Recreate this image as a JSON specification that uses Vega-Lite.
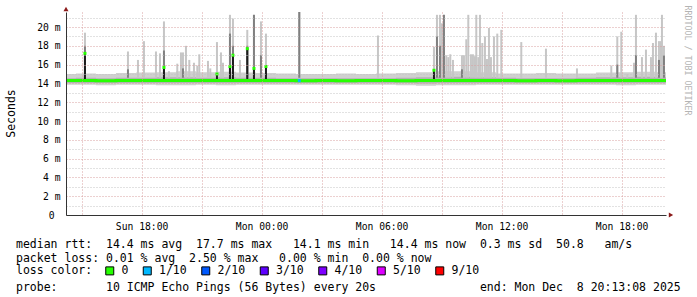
{
  "$schema": "https://vega.github.io/schema/vega-lite/v6.json",
  "width": 600,
  "height": 203,
  "autosize": {"type": "none"},
  "padding": {"left": 66, "top": 12, "right": 31, "bottom": 82},
  "background": "white",
  "config": {"view": {"stroke": null}, "font": "DejaVu Sans Mono", "scale": {"continuousPadding": 0}},
  "title": {
    "text": [
      "median rtt:\u00a0\u00a014.4 ms avg\u00a0\u00a017.7 ms max\u00a0\u00a0\u00a014.1 ms min\u00a0\u00a0\u00a014.4 ms now\u00a0\u00a00.3 ms sd\u00a0\u00a050.8\u00a0\u00a0\u00a0am/s",
      "packet loss: 0.01 % avg\u00a0\u00a02.50 % max\u00a0\u00a0\u00a00.00 % min\u00a0\u00a00.00 % now"
    ],
    "subtitle": "probe:\u00a0\u00a0\u00a0\u00a0\u00a0\u00a0\u00a010 ICMP Echo Pings (56 Bytes) every 20s\u00a0\u00a0\u00a0\u00a0\u00a0\u00a0\u00a0\u00a0\u00a0\u00a0\u00a0\u00a0\u00a0\u00a0\u00a0end: Mon Dec\u00a0\u00a08 20:13:08 2025",
    "orient": "bottom",
    "anchor": "start",
    "frame": "group",
    "dx": -50,
    "offset": -38,
    "font": "DejaVu Sans Mono",
    "fontSize": 11.5,
    "fontWeight": "normal",
    "color": "#000000",
    "lineHeight": 14,
    "subtitleFont": "DejaVu Sans Mono",
    "subtitleFontSize": 11.5,
    "subtitleFontWeight": "normal",
    "subtitleColor": "#000000",
    "subtitlePadding": 17
  },
  "datasets": {
    "base": [
      {"t": "2025-12-07T14:13:08", "lo": 13.85, "mlo": 14.05, "med": 14.3, "mhi": 14.55, "hi": 15.0},
      {"t": "2025-12-07T15:13:00", "lo": 13.85, "mlo": 14.05, "med": 14.3, "mhi": 14.6, "hi": 15.05},
      {"t": "2025-12-07T16:13:00", "lo": 13.8, "mlo": 14.05, "med": 14.28, "mhi": 14.55, "hi": 15.0},
      {"t": "2025-12-07T17:13:00", "lo": 13.85, "mlo": 14.05, "med": 14.3, "mhi": 14.6, "hi": 15.1},
      {"t": "2025-12-07T18:13:00", "lo": 13.85, "mlo": 14.05, "med": 14.32, "mhi": 14.6, "hi": 15.15},
      {"t": "2025-12-07T19:13:00", "lo": 13.8, "mlo": 14.05, "med": 14.3, "mhi": 14.65, "hi": 15.2},
      {"t": "2025-12-07T20:13:00", "lo": 13.8, "mlo": 14.05, "med": 14.3, "mhi": 14.65, "hi": 15.3},
      {"t": "2025-12-07T21:13:00", "lo": 13.85, "mlo": 14.05, "med": 14.32, "mhi": 14.6, "hi": 15.2},
      {"t": "2025-12-07T22:13:00", "lo": 13.8, "mlo": 14.05, "med": 14.3, "mhi": 14.65, "hi": 15.25},
      {"t": "2025-12-07T23:13:00", "lo": 13.85, "mlo": 14.05, "med": 14.3, "mhi": 14.6, "hi": 15.15},
      {"t": "2025-12-08T00:13:00", "lo": 13.85, "mlo": 14.05, "med": 14.3, "mhi": 14.6, "hi": 15.1},
      {"t": "2025-12-08T01:13:00", "lo": 13.85, "mlo": 14.05, "med": 14.3, "mhi": 14.55, "hi": 15.05},
      {"t": "2025-12-08T02:13:00", "lo": 13.85, "mlo": 14.05, "med": 14.28, "mhi": 14.55, "hi": 15.0},
      {"t": "2025-12-08T03:13:00", "lo": 13.85, "mlo": 14.05, "med": 14.3, "mhi": 14.55, "hi": 15.0},
      {"t": "2025-12-08T04:13:00", "lo": 13.85, "mlo": 14.05, "med": 14.28, "mhi": 14.55, "hi": 15.05},
      {"t": "2025-12-08T05:13:00", "lo": 13.85, "mlo": 14.05, "med": 14.3, "mhi": 14.55, "hi": 15.0},
      {"t": "2025-12-08T06:13:00", "lo": 13.85, "mlo": 14.05, "med": 14.3, "mhi": 14.55, "hi": 15.05},
      {"t": "2025-12-08T07:13:00", "lo": 13.8, "mlo": 14.05, "med": 14.28, "mhi": 14.6, "hi": 15.1},
      {"t": "2025-12-08T08:13:00", "lo": 13.75, "mlo": 14.0, "med": 14.3, "mhi": 14.65, "hi": 15.2},
      {"t": "2025-12-08T09:13:00", "lo": 13.8, "mlo": 14.05, "med": 14.3, "mhi": 14.7, "hi": 15.3},
      {"t": "2025-12-08T10:13:00", "lo": 13.8, "mlo": 14.05, "med": 14.32, "mhi": 14.7, "hi": 15.3},
      {"t": "2025-12-08T11:13:00", "lo": 13.85, "mlo": 14.05, "med": 14.3, "mhi": 14.65, "hi": 15.2},
      {"t": "2025-12-08T12:13:00", "lo": 13.85, "mlo": 14.05, "med": 14.3, "mhi": 14.6, "hi": 15.05},
      {"t": "2025-12-08T13:13:00", "lo": 13.85, "mlo": 14.05, "med": 14.28, "mhi": 14.55, "hi": 15.05},
      {"t": "2025-12-08T14:13:00", "lo": 13.85, "mlo": 14.05, "med": 14.3, "mhi": 14.55, "hi": 15.1},
      {"t": "2025-12-08T15:13:00", "lo": 13.85, "mlo": 14.05, "med": 14.28, "mhi": 14.55, "hi": 15.05},
      {"t": "2025-12-08T16:13:00", "lo": 13.85, "mlo": 14.05, "med": 14.3, "mhi": 14.6, "hi": 15.05},
      {"t": "2025-12-08T17:13:00", "lo": 13.85, "mlo": 14.05, "med": 14.3, "mhi": 14.65, "hi": 15.15},
      {"t": "2025-12-08T18:13:00", "lo": 13.8, "mlo": 14.05, "med": 14.3, "mhi": 14.65, "hi": 15.2},
      {"t": "2025-12-08T19:13:00", "lo": 13.85, "mlo": 14.05, "med": 14.32, "mhi": 14.7, "hi": 15.25},
      {"t": "2025-12-08T20:13:08", "lo": 13.85, "mlo": 14.05, "med": 14.3, "mhi": 14.65, "hi": 15.2}
    ],
    "spikes": [
      {"t": "2025-12-07T15:10:00", "top": 19.4, "dark": 18.0, "black": 17.2},
      {"t": "2025-12-07T17:19:00", "top": 17.4, "dark": 15.5},
      {"t": "2025-12-07T17:49:00", "top": 16.5},
      {"t": "2025-12-07T18:07:00", "top": 18.5},
      {"t": "2025-12-07T18:43:00", "top": 17.4},
      {"t": "2025-12-07T18:55:00", "top": 17.2},
      {"t": "2025-12-07T19:07:00", "top": 20.6, "dark": 17.5, "black": 15.7},
      {"t": "2025-12-07T19:22:00", "top": 15.3},
      {"t": "2025-12-07T19:47:00", "top": 16.1},
      {"t": "2025-12-07T19:58:00", "top": 17.3},
      {"t": "2025-12-07T20:04:00", "top": 17.3, "dark": 15.6},
      {"t": "2025-12-07T20:13:00", "top": 18.0},
      {"t": "2025-12-07T20:23:00", "top": 16.5},
      {"t": "2025-12-07T20:37:00", "top": 16.2},
      {"t": "2025-12-07T20:47:00", "top": 15.9},
      {"t": "2025-12-07T20:53:00", "top": 17.1},
      {"t": "2025-12-07T21:19:00", "top": 16.4},
      {"t": "2025-12-07T21:26:00", "top": 15.6},
      {"t": "2025-12-07T21:46:00", "top": 18.4, "black": 15.0},
      {"t": "2025-12-07T21:58:00", "top": 17.3},
      {"t": "2025-12-07T22:04:00", "top": 16.2},
      {"t": "2025-12-07T22:25:00", "top": 21.3, "dark": 19.3, "black": 15.8},
      {"t": "2025-12-07T22:34:00", "top": 20.9, "dark": 18.0, "black": 17.0},
      {"t": "2025-12-07T22:55:00", "top": 16.5},
      {"t": "2025-12-07T23:17:00", "top": 19.7, "dark": 18.0, "black": 17.7},
      {"t": "2025-12-07T23:37:00", "top": 21.3, "dark": 21.3, "black": 15.6},
      {"t": "2025-12-07T23:58:00", "top": 20.6, "dark": 17.0},
      {"t": "2025-12-08T00:13:00", "top": 19.3, "black": 15.8},
      {"t": "2025-12-08T01:53:00", "top": 21.6, "dark": 21.6},
      {"t": "2025-12-08T05:49:00", "top": 19.1},
      {"t": "2025-12-08T08:37:00", "top": 17.9, "black": 15.4},
      {"t": "2025-12-08T08:46:00", "top": 21.3, "dark": 19.0},
      {"t": "2025-12-08T08:55:00", "top": 21.3, "dark": 18.0},
      {"t": "2025-12-08T09:01:00", "top": 20.4},
      {"t": "2025-12-08T09:07:00", "top": 21.3, "dark": 21.3},
      {"t": "2025-12-08T09:14:00", "top": 17.0},
      {"t": "2025-12-08T09:20:00", "top": 16.8},
      {"t": "2025-12-08T09:26:00", "top": 17.1},
      {"t": "2025-12-08T09:34:00", "top": 16.5},
      {"t": "2025-12-08T10:01:00", "top": 17.0, "dark": 15.5},
      {"t": "2025-12-08T10:07:00", "top": 17.0},
      {"t": "2025-12-08T10:14:00", "top": 18.7},
      {"t": "2025-12-08T10:20:00", "top": 21.3},
      {"t": "2025-12-08T10:28:00", "top": 17.1},
      {"t": "2025-12-08T10:34:00", "top": 17.1},
      {"t": "2025-12-08T10:40:00", "top": 16.9},
      {"t": "2025-12-08T10:44:00", "top": 21.3},
      {"t": "2025-12-08T10:50:00", "top": 16.8},
      {"t": "2025-12-08T10:55:00", "top": 21.3},
      {"t": "2025-12-08T11:02:00", "top": 18.3},
      {"t": "2025-12-08T11:10:00", "top": 19.0},
      {"t": "2025-12-08T11:16:00", "top": 16.6},
      {"t": "2025-12-08T11:22:00", "top": 19.9},
      {"t": "2025-12-08T11:28:00", "top": 16.8},
      {"t": "2025-12-08T11:37:00", "top": 19.0},
      {"t": "2025-12-08T11:47:00", "top": 19.3},
      {"t": "2025-12-08T11:59:00", "top": 19.7},
      {"t": "2025-12-08T12:59:00", "top": 18.4},
      {"t": "2025-12-08T14:13:00", "top": 17.7},
      {"t": "2025-12-08T15:46:00", "top": 15.6},
      {"t": "2025-12-08T17:29:00", "top": 15.9},
      {"t": "2025-12-08T17:47:00", "top": 19.0, "dark": 16.0},
      {"t": "2025-12-08T17:59:00", "top": 19.5},
      {"t": "2025-12-08T18:17:00", "top": 15.0},
      {"t": "2025-12-08T18:37:00", "top": 16.2},
      {"t": "2025-12-08T18:43:00", "top": 21.3, "dark": 17.0},
      {"t": "2025-12-08T19:01:00", "top": 16.8},
      {"t": "2025-12-08T19:13:00", "top": 17.6},
      {"t": "2025-12-08T19:28:00", "top": 16.8},
      {"t": "2025-12-08T19:34:00", "top": 18.3},
      {"t": "2025-12-08T19:43:00", "top": 19.4},
      {"t": "2025-12-08T19:52:00", "top": 18.5, "dark": 16.5},
      {"t": "2025-12-08T19:58:00", "top": 18.5},
      {"t": "2025-12-08T20:01:00", "top": 21.3},
      {"t": "2025-12-08T20:07:00", "top": 18.0, "dark": 17.0}
    ],
    "loss": [
      {"t": "2025-12-08T01:53:00", "med": 14.3, "loss": "1/10"}
    ],
    "xarrow": [{"t": "2025-12-08T20:13:08", "v": 0}],
    "yarrow": [{"t": "2025-12-07T14:13:08", "v": 21.6}]
  },
  "layer": [
    {
      "data": {"name": "base"},
      "mark": {"type": "area", "color": "#d0d0d0", "interpolate": "step"},
      "encoding": {
        "x": {
          "field": "t", "type": "temporal",
          "scale": {"nice": false, "padding": 0},
          "axis": {
            "title": null,
            "tickCount": "hour",
            "labelExpr": "hours(datum.value) % 6 === 0 ? timeFormat(datum.value, '%a %H:%M') : ''",
            "grid": true,
            "gridColor": {"condition": {"test": "hours(datum.value) % 3 === 0", "value": "#d9a0a0"}, "value": "#c4c4c4"},
            "gridDash": [1, 2],
            "ticks": false,
            "domainColor": "#333333",
            "labelFont": "DejaVu Sans Mono",
            "labelFontSize": 9.7,
            "labelColor": "#000000",
            "labelPadding": 6,
            "labelOverlap": false,
            "labelFlush": false,
            "labelBound": false,
            "zindex": 1
          }
        },
        "y": {
          "field": "lo", "type": "quantitative",
          "scale": {"domain": [0, 21.6], "nice": false},
          "axis": {
            "title": "Seconds",
            "values": [0, 1, 2, 3, 4, 5, 6, 7, 8, 9, 10, 11, 12, 13, 14, 15, 16, 17, 18, 19, 20, 21],
            "labelExpr": "datum.value === 0 ? '0' : (datum.value % 2 === 0 ? datum.value + ' m' : '')",
            "grid": true,
            "gridColor": {"condition": {"test": "datum.value % 2 === 0", "value": "#d9a0a0"}, "value": "#c4c4c4"},
            "gridDash": [1, 2],
            "ticks": false,
            "domainColor": "#333333",
            "labelFont": "DejaVu Sans Mono",
            "labelFontSize": 9.7,
            "labelColor": "#000000",
            "labelPadding": {"condition": {"test": "datum.value === 0", "value": 12}, "value": 6},
            "labelOverlap": false,
            "titleFont": "DejaVu Sans Mono",
            "titleFontSize": 11.5,
            "titleFontWeight": "normal",
            "titleColor": "#000000",
            "titleX": -55,
            "titleY": 101,
            "titleAngle": -90,
            "titleAlign": "center",
            "titleBaseline": "middle",
            "zindex": 1
          }
        },
        "y2": {"field": "hi"}
      }
    },
    {
      "data": {"name": "base"},
      "mark": {"type": "area", "color": "#b2b2b2", "interpolate": "step"},
      "encoding": {
        "x": {"field": "t", "type": "temporal"},
        "y": {"field": "mlo", "type": "quantitative", "axis": null},
        "y2": {"field": "mhi"}
      }
    },
    {
      "data": {"name": "spikes"},
      "mark": {"type": "bar", "color": "#c6c6c6", "width": 2},
      "encoding": {
        "x": {"field": "t", "type": "temporal"},
        "y": {"field": "top", "type": "quantitative", "axis": null},
        "y2": {"datum": 14.6}
      }
    },
    {
      "data": {"name": "spikes"},
      "transform": [{"filter": "isValid(datum.dark)"}],
      "mark": {"type": "bar", "color": "#808080", "width": 2},
      "encoding": {
        "x": {"field": "t", "type": "temporal"},
        "y": {"field": "dark", "type": "quantitative", "axis": null},
        "y2": {"datum": 14.6}
      }
    },
    {
      "data": {"name": "spikes"},
      "transform": [{"filter": "isValid(datum.black)"}],
      "mark": {"type": "bar", "color": "#1c1c1c", "width": 2},
      "encoding": {
        "x": {"field": "t", "type": "temporal"},
        "y": {"field": "black", "type": "quantitative", "axis": null},
        "y2": {"datum": 14.3}
      }
    },
    {
      "data": {"name": "base"},
      "mark": {"type": "line", "color": "#26ff00", "strokeWidth": 3, "interpolate": "step"},
      "encoding": {
        "x": {"field": "t", "type": "temporal"},
        "y": {"field": "med", "type": "quantitative", "axis": null}
      }
    },
    {
      "data": {"name": "spikes"},
      "transform": [{"filter": "isValid(datum.black)"}],
      "mark": {"type": "point", "shape": "square", "filled": true, "size": 9, "color": "#26ff00", "opacity": 1},
      "encoding": {
        "x": {"field": "t", "type": "temporal"},
        "y": {"field": "black", "type": "quantitative", "axis": null}
      }
    },
    {
      "data": {"name": "loss"},
      "mark": {"type": "point", "shape": "square", "filled": true, "size": 9, "opacity": 1},
      "encoding": {
        "x": {"field": "t", "type": "temporal"},
        "y": {"field": "med", "type": "quantitative", "axis": null},
        "color": {
          "field": "loss", "type": "nominal",
          "scale": {
            "domain": ["0", "1/10", "2/10", "3/10", "4/10", "5/10", "9/10"],
            "range": ["#26ff00", "#00b8ff", "#0059ff", "#5e00ff", "#7e00ff", "#dd00ff", "#ff0000"]
          },
          "legend": {
            "title": "loss color:",
            "orient": "none",
            "legendX": -50,
            "legendY": 253,
            "direction": "horizontal",
            "titleOrient": "left",
            "symbolType": "square",
            "symbolSize": 64,
            "symbolStrokeColor": "#000000",
            "symbolStrokeWidth": 1,
            "symbolOpacity": 1,
            "labelFont": "DejaVu Sans Mono",
            "labelFontSize": 11.5,
            "labelColor": "#000000",
            "labelOffset": 6,
            "columnPadding": 11.5,
            "padding": 0,
            "titleFont": "DejaVu Sans Mono",
            "titleFontSize": 11.5,
            "titleFontWeight": "normal",
            "titleColor": "#000000",
            "titlePadding": 11
          }
        }
      }
    },
    {
      "data": {"name": "xarrow"},
      "mark": {"type": "point", "shape": "triangle-right", "filled": true, "size": 25, "color": "#8b1a1a", "opacity": 1, "xOffset": 5},
      "encoding": {
        "x": {"field": "t", "type": "temporal"},
        "y": {"field": "v", "type": "quantitative", "axis": null}
      }
    },
    {
      "data": {"name": "yarrow"},
      "mark": {"type": "point", "shape": "triangle-up", "filled": true, "size": 25, "color": "#8b1a1a", "opacity": 1, "yOffset": -3},
      "encoding": {
        "x": {"field": "t", "type": "temporal"},
        "y": {
          "field": "v", "type": "quantitative",
          "axis": {
            "orient": "right",
            "title": "RRDTOOL / TOBI OETIKER",
            "labels": false,
            "ticks": false,
            "domain": false,
            "grid": false,
            "titleAngle": 90,
            "titleX": 20,
            "titleY": -7,
            "titleAlign": "left",
            "titleBaseline": "middle",
            "titleFont": "DejaVu Sans Mono",
            "titleFontSize": 8.3,
            "titleFontWeight": "normal",
            "titleColor": "#b4b4b4"
          }
        }
      }
    }
  ],
  "resolve": {"axis": {"y": "independent"}}
}
